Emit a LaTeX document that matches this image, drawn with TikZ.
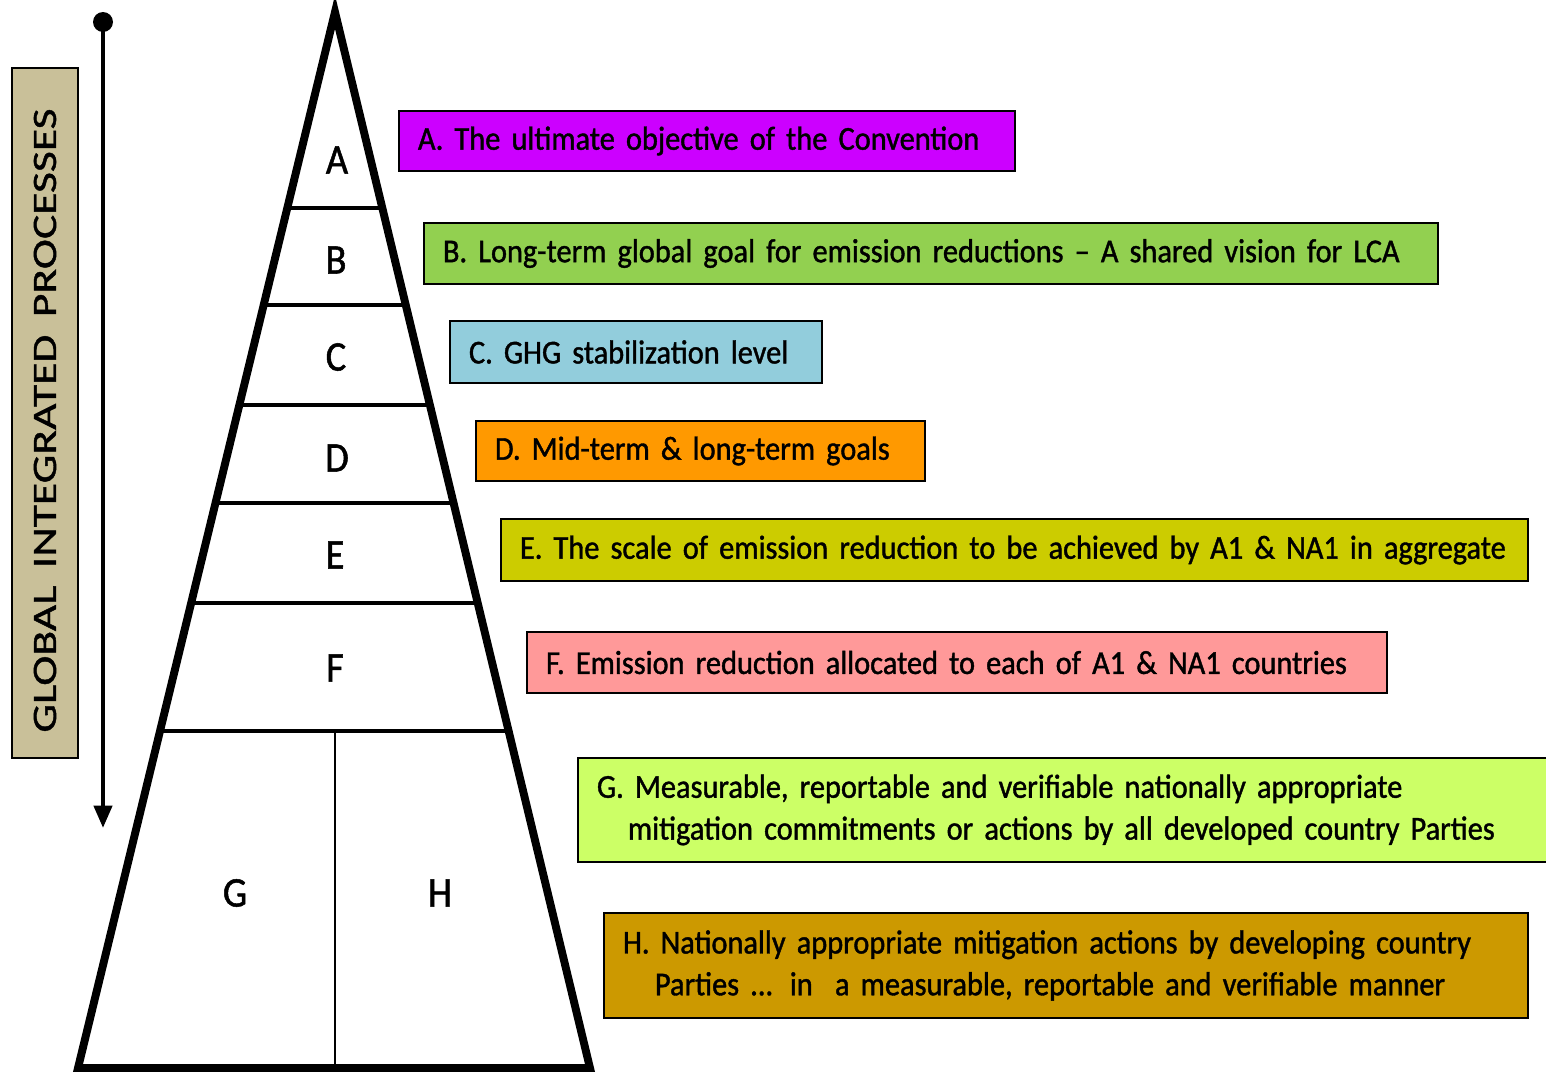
\documentclass[tikz,border=0pt]{standalone}
\usepackage{fontspec}
\setmainfont[FakeStretch=0.91, FakeBold=1.2, WordSpace=0.6]{Carlito}
\newfontfamily\longfont[FakeStretch=1.33, FakeBold=1.2, WordSpace=0.85]{Carlito}
\usetikzlibrary{arrows.meta,calc}

\definecolor{colA}{RGB}{204,0,255}
\definecolor{colB}{RGB}{146,208,80}
\definecolor{colC}{RGB}{146,205,220}
\definecolor{colD}{RGB}{255,153,0}
\definecolor{colE}{RGB}{204,204,0}
\definecolor{colF}{RGB}{255,153,153}
\definecolor{colG}{RGB}{204,255,102}
\definecolor{colH}{RGB}{204,153,0}
\definecolor{tanbox}{RGB}{201,192,153}

\tikzset{
	goalbox/.style = {draw = black, line width = 1.1pt, anchor = north west, inner xsep = 0.38cm, inner ysep = 0pt, align = left, font = \fontsize{19}{23.8}\selectfont},
	level/.style = {font = \fontsize{24}{26}\selectfont}
}

\begin{document}
\begin{tikzpicture}[x = 0.02cm, y = -0.02cm]
		\useasboundingbox (0,0) rectangle (1546,1072);
		% pyramid
		\coordinate (apex) at (335,12);
		\coordinate (bl) at (78,1068);
		\coordinate (br) at (590,1068);
		\foreach \t in {0.1856, 0.2775, 0.3722, 0.4650, 0.5597, 0.6809}
			\draw [line width = 2.3pt] ($(apex)!\t!(bl)$) -- ($(apex)!\t!(br)$);
		\draw [line width = 1.7pt] (335,731) -- (335,1068);
		\draw [line width = 4.5pt, line join = miter] (apex) -- (bl) -- (br) -- cycle;
		\node [level] (la) at (337,160) {A};
		\node [level] (lb) at (336,260) {B};
		\node [level] (lc) at (336,357) {C};
		\node [level] (ld) at (337,458) {D};
		\node [level] (le) at (335,555) {E};
		\node [level] (lf) at (335,668) {F};
		\node [level] (lg) at (235,893) {G};
		\node [level] (lh) at (440,893) {H};
		% left side
		\node [draw, line width = 1.1pt, fill = tanbox, rotate = 90, minimum width = 13.8cm, minimum height = 1.32cm, font = \longfont\fontsize{19.5}{24}\selectfont] (gip) at (45,413) {\raisebox{0pt}{GLOBAL\ \ INTEGRATED\ \ PROCESSES}\hspace*{0.3cm}};
		\fill (103,22) circle (10);
		\draw [line width = 2.6pt, -{Triangle[length = 0.45cm, width = 0.36cm]}] (103,22) -- (103,828);
		% goal boxes
		\node [goalbox, fill = colA, text width = 11.56cm, minimum height = 1.2cm] (ga) at (398,110) {A. The ultimate objective of the Convention};
		\node [goalbox, fill = colB, text width = 19.52cm, minimum height = 1.22cm] (gb) at (423,222) {B. Long-term global goal for emission reductions -- A shared vision for LCA};
		\node [goalbox, fill = colC, text width = 6.68cm, minimum height = 1.24cm] (gc) at (449,320) {C. GHG stabilization level};
		\node [goalbox, fill = colD, text width = 8.22cm, minimum height = 1.2cm] (gd) at (475,420) {D. Mid-term \& long-term goals};
		\node [goalbox, fill = colE, text width = 19.78cm, minimum height = 1.24cm] (ge) at (500,518) {E. The scale of emission reduction to be achieved by A1 \& NA1 in aggregate};
		\node [goalbox, fill = colF, text width = 16.44cm, minimum height = 1.22cm] (gf) at (526,631) {F. Emission reduction allocated to each of A1 \& NA1 countries};
		\node [goalbox, fill = colG, text width = 19.1cm, minimum height = 2.08cm] (gg) at (577,757) {G. Measurable, reportable and verifiable nationally appropriate\\\hspace*{0.62cm}mitigation commitments or actions by all developed country Parties};
		\node [goalbox, fill = colH, text width = 17.72cm, minimum height = 2.1cm] (gh) at (603,912) {H. Nationally appropriate mitigation actions by developing country\\\hspace*{0.64cm}Parties ... in\ \ a measurable, reportable and verifiable manner};
	\end{tikzpicture}
\end{document}
